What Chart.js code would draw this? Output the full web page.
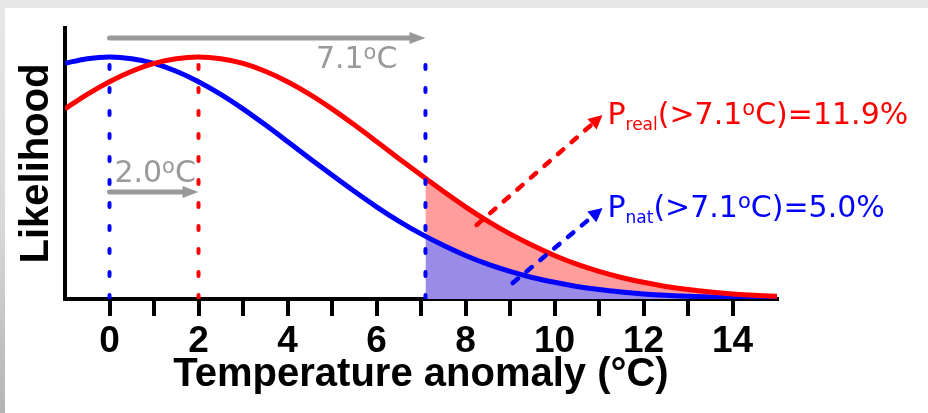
<!DOCTYPE html>
<html lang="en">
<head>
<meta charset="UTF-8">
<title>Likelihood of temperature anomaly</title>
<script src="https://cdn.jsdelivr.net/npm/chart.js"></script>
<style>
  html, body { margin: 0; padding: 0; }
  body {
    width: 928px; height: 413px; overflow: hidden; position: relative;
    background: linear-gradient(to bottom, #e8e8e8 0%, #d8d8d8 55%, #b4b4b4 100%);
  }
  #panel { position: absolute; left: 5px; top: 8px; right: 0; bottom: 0; background: #fff; }
  #chart { position: absolute; left: 0; top: 0; }
</style>
</head>
<body>
<div id="panel"></div>
<canvas id="chart" width="928" height="413"></canvas>

<script>
  // temperature anomaly (degC) and relative likelihood
  const anomaly = [-1, -0.5, 0, 0.5, 1, 1.5, 2, 2.5, 3, 3.5, 4, 4.5, 5, 5.5, 6, 6.5, 7, 7.5,
                   8, 8.5, 9, 9.5, 10, 10.5, 11, 11.5, 12, 12.5, 13, 13.5, 14, 14.5, 15];
  const natural = [0.974, 0.993, 1.000, 0.993, 0.974, 0.941, 0.898, 0.846, 0.786, 0.720, 0.651,
                   0.581, 0.512, 0.445, 0.381, 0.322, 0.269, 0.222, 0.180, 0.144, 0.114, 0.089,
                   0.069, 0.052, 0.039, 0.029, 0.021, 0.015, 0.011, 0.008, 0.005, 0.004, 0.002];
  const real    = [0.786, 0.846, 0.898, 0.941, 0.974, 0.993, 1.000, 0.993, 0.974, 0.941, 0.898,
                   0.846, 0.786, 0.720, 0.651, 0.581, 0.512, 0.445, 0.381, 0.322, 0.269, 0.222,
                   0.180, 0.144, 0.114, 0.089, 0.069, 0.052, 0.039, 0.029, 0.021, 0.015, 0.011];

  const meanNat = 0.0;
  const meanReal = 2.0;
  const threshold = 7.1;
  const natAtThreshold = 0.259;
  const realAtThreshold = 0.498;
  const pNat = 5.0;
  const pReal = 11.9;
  const xTickLabels = [0, 2, 4, 6, 8, 10, 12, 14];

  const pts = (xs, ys) => xs.map((x, i) => ({ x: x, y: ys[i] }));
  const tailIdx = anomaly.map((x, i) => i).filter(i => anomaly[i] > threshold);
  const tailX = [threshold].concat(tailIdx.map(i => anomaly[i]));
  const natTail = [natAtThreshold].concat(tailIdx.map(i => natural[i]));
  const realTail = [realAtThreshold].concat(tailIdx.map(i => real[i]));
  const vline = x => [{ x: x, y: 0 }, { x: x, y: 1 }];

  const RED = '#ff0000', BLUE = '#0000ff', GREY = '#999999';
  const noteFont = '"DejaVu Sans", sans-serif';

  // annotations (data units)
  const notes = {
    span:  { y: 1.079, label: { x: 6.47, y: 0.955, align: 'right' } },
    shift: { y: 0.442, label: { x: 0.11, y: 0.483, align: 'left' } },
    real:  { from: [8.25, 0.306], to: [11.08, 0.760], label: [11.19, 0.723] },
    nat:   { from: [9.06, 0.066], to: [11.08, 0.376], label: [11.19, 0.339] }
  };

  function drawRich(ctx, parts, x, y, color, align) {
    ctx.save();
    ctx.fillStyle = color;
    ctx.textBaseline = 'alphabetic';
    ctx.textAlign = 'left';
    let w = 0;
    parts.forEach(p => { ctx.font = p.size + 'px ' + noteFont; w += ctx.measureText(p.text).width; });
    let cx = align === 'right' ? x - w : x;
    parts.forEach(p => {
      ctx.font = p.size + 'px ' + noteFont;
      ctx.fillText(p.text, cx, y + (p.dy || 0));
      cx += ctx.measureText(p.text).width;
    });
    ctx.restore();
  }

  function degParts(value) {
    return [{ text: value.toFixed(1), size: 30 }, { text: 'o', size: 21, dy: -9 }, { text: 'C', size: 30 }];
  }

  function probParts(sub, p) {
    return [{ text: 'P', size: 30 }, { text: sub, size: 17, dy: 6 },
            { text: '(>' + threshold.toFixed(1), size: 30 }, { text: 'o', size: 21, dy: -9 },
            { text: 'C)=' + p.toFixed(1) + '%', size: 30 }];
  }

  function arrow(ctx, x1, y1, x2, y2, color, width, dash, head, halfW) {
    const a = Math.atan2(y2 - y1, x2 - x1);
    const bx = x2 - head * Math.cos(a), by = y2 - head * Math.sin(a);
    ctx.save();
    ctx.strokeStyle = color;
    ctx.fillStyle = color;
    ctx.lineWidth = width;
    ctx.lineCap = 'round';
    ctx.setLineDash(dash);
    ctx.beginPath();
    ctx.moveTo(x1, y1);
    ctx.lineTo(bx, by);
    ctx.stroke();
    ctx.setLineDash([]);
    ctx.beginPath();
    ctx.moveTo(x2, y2);
    ctx.lineTo(bx + halfW * Math.sin(a), by - halfW * Math.cos(a));
    ctx.lineTo(bx - halfW * Math.sin(a), by + halfW * Math.cos(a));
    ctx.closePath();
    ctx.fill();
    ctx.restore();
  }

  const notesPlugin = {
    id: 'notes',
    afterDraw(chart) {
      const ctx = chart.ctx;
      const X = v => chart.scales.x.getPixelForValue(v);
      const Y = v => chart.scales.y.getPixelForValue(v);

      // grey shift arrows
      arrow(ctx, X(meanNat), Y(notes.span.y), X(threshold), Y(notes.span.y), GREY, 5, [], 16, 6);
      drawRich(ctx, degParts(threshold), X(notes.span.label.x), Y(notes.span.label.y), GREY, 'right');
      arrow(ctx, X(meanNat), Y(notes.shift.y), X(meanReal), Y(notes.shift.y), GREY, 5, [], 16, 6);
      drawRich(ctx, degParts(meanReal - meanNat), X(notes.shift.label.x), Y(notes.shift.label.y), GREY, 'left');

      // probability call-outs
      const r = notes.real, n = notes.nat;
      arrow(ctx, X(r.from[0]), Y(r.from[1]), X(r.to[0]), Y(r.to[1]), RED, 4.5, [7, 11], 14, 7);
      arrow(ctx, X(n.from[0]), Y(n.from[1]), X(n.to[0]), Y(n.to[1]), BLUE, 4.5, [7, 11], 14, 7);
      drawRich(ctx, probParts('real', pReal), X(r.label[0]), Y(r.label[1]), RED, 'left');
      drawRich(ctx, probParts('nat', pNat), X(n.label[0]), Y(n.label[1]), BLUE, 'left');
    }
  };

  const dotted = { borderWidth: 4, borderDash: [4, 19], borderCapStyle: 'round', pointRadius: 0, fill: false };

  new Chart(document.getElementById('chart'), {
    type: 'line',
    data: {
      datasets: [
        { data: pts(anomaly, real), borderColor: RED, borderWidth: 5, pointRadius: 0, fill: false,
          cubicInterpolationMode: 'monotone', order: 1 },
        { data: pts(anomaly, natural), borderColor: BLUE, borderWidth: 5, pointRadius: 0, fill: false,
          cubicInterpolationMode: 'monotone', order: 2 },
        { data: pts(tailX, realTail), borderWidth: 0, pointRadius: 0, backgroundColor: '#ff9d9d',
          fill: 3, cubicInterpolationMode: 'monotone', order: 5 },
        { data: pts(tailX, natTail), borderWidth: 0, pointRadius: 0, backgroundColor: '#9b8be8',
          fill: 'origin', cubicInterpolationMode: 'monotone', order: 4 },
        Object.assign({ data: vline(meanNat), borderColor: BLUE, order: 0 }, dotted),
        Object.assign({ data: vline(meanReal), borderColor: RED, order: 0 }, dotted),
        Object.assign({ data: vline(threshold), borderColor: BLUE, order: 0 }, dotted)
      ]
    },
    options: {
      responsive: false,
      devicePixelRatio: 1,
      animation: false,
      events: [],
      layout: { padding: { top: 28, right: 151, left: 0, bottom: 0 } },
      plugins: { legend: { display: false }, tooltip: { enabled: false } },
      scales: {
        x: {
          type: 'linear',
          min: -1,
          max: 15,
          afterFit: s => { s.height = 114; },
          border: { display: true, color: '#000', width: 4 },
          grid: {
            drawOnChartArea: false,
            tickLength: 17,
            tickWidth: 4,
            lineWidth: 4,
            tickColor: c => (c.tick && c.tick.value >= 0 && c.tick.value <= 14) ? '#000' : 'rgba(0,0,0,0)'
          },
          ticks: {
            stepSize: 1,
            autoSkip: false,
            maxRotation: 0,
            padding: 4,
            color: '#000',
            font: { family: '"Liberation Sans", Arial, sans-serif', size: 37, weight: 'bold' },
            callback: v => xTickLabels.includes(v) ? String(v) : ''
          },
          title: {
            display: true,
            text: 'Temperature anomaly (°C)',
            color: '#000',
            font: { family: '"Liberation Sans", Arial, sans-serif', size: 40, weight: 'bold' },
            padding: { top: 0, bottom: 14 }
          }
        },
        y: {
          min: 0,
          max: 1.12,
          afterFit: s => { s.width = 65; },
          border: { display: true, color: '#000', width: 4 },
          grid: { display: false },
          ticks: { display: false },
          title: {
            display: true,
            text: 'Likelihood',
            color: '#000',
            font: { family: '"Liberation Sans", Arial, sans-serif', size: 40, weight: 'bold' },
            padding: { top: 13, bottom: 0 }
          }
        }
      }
    },
    plugins: [notesPlugin]
  });
</script>
</body>
</html>
